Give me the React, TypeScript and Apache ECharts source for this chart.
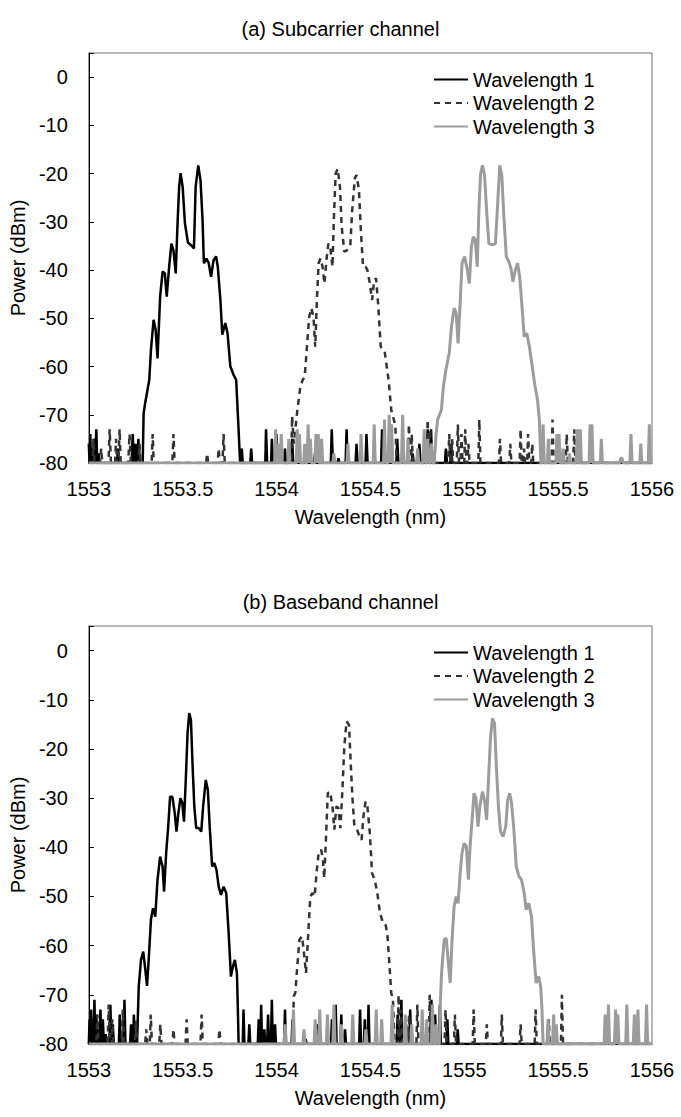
import { useEffect, useRef } from "react";
import * as echarts from "echarts";

const xMin = 1553;
const xMax = 1556;
const xStep = 0.5;
const yMin = -80;
const yMax = 5;
const yStep = 10;
const seriesNames = ["Wavelength 1", "Wavelength 2", "Wavelength 3"];
const panelTitles = ["(a) Subcarrier channel", "(b) Baseband channel"];
const xName = "Wavelength (nm)";
const yName = "Power (dBm)";

// (a) Subcarrier channel
const a_w1: [number, number][] = [
  [1553.000,-76],[1553.004,-80],[1553.008,-74],[1553.012,-80],[1553.018,-77],[1553.022,-80],[1553.028,-75],[1553.033,-80],[1553.040,-73],[1553.045,-80],[1553.052,-78],[1553.058,-80],
  [1553.150,-80],[1553.155,-77],[1553.160,-80],
  [1553.228,-80],[1553.234,-74],[1553.240,-80],[1553.245,-80],[1553.250,-76],[1553.256,-80],[1553.260,-80],[1553.264,-75],[1553.272,-80],
  [1553.287,-80],[1553.292,-69.7],[1553.300,-67.6],[1553.322,-62.8],[1553.331,-56.6],[1553.345,-50.3],[1553.356,-52.4],[1553.366,-58.3],[1553.380,-45.5],[1553.393,-40.3],[1553.405,-40.7],[1553.415,-45.5],[1553.428,-39.3],[1553.440,-34.5],[1553.451,-35.9],[1553.463,-40.7],[1553.472,-31.0],[1553.481,-22.8],[1553.489,-19.9],[1553.500,-22.8],[1553.512,-30.3],[1553.528,-34.3],[1553.546,-34.9],[1553.560,-35.5],[1553.569,-22.8],[1553.583,-18.3],[1553.595,-21.4],[1553.606,-29.7],[1553.613,-38.6],[1553.627,-37.6],[1553.639,-38.6],[1553.651,-41.4],[1553.665,-37.9],[1553.678,-37.2],[1553.687,-39.3],[1553.701,-46.2],[1553.711,-53.4],[1553.727,-51.0],[1553.739,-53.1],[1553.754,-60.0],[1553.771,-61.7],[1553.785,-62.8],[1553.797,-72.4],[1553.806,-80],
  [1553.812,-80],[1553.815,-77],[1553.820,-80],[1553.860,-80],[1553.865,-77],[1553.870,-80],[1553.940,-80],[1553.944,-73],[1553.950,-80],[1553.971,-80],[1553.975,-75],[1553.981,-80],[1553.996,-80],[1554.000,-74],[1554.006,-80],[1554.040,-80],[1554.045,-77],[1554.050,-80],[1554.078,-80],[1554.083,-75],[1554.089,-80],[1554.200,-80],[1554.205,-78],[1554.210,-80],[1554.289,-80],[1554.294,-73],[1554.300,-80],[1554.325,-80],[1554.330,-79],[1554.335,-80],[1554.368,-80],[1554.373,-73],[1554.379,-80],[1554.421,-80],[1554.426,-76],[1554.432,-80],[1554.474,-80],[1554.479,-74],[1554.485,-80],[1554.557,-80],[1554.562,-73],[1554.568,-80],[1554.638,-80],[1554.643,-75],[1554.649,-80],[1554.720,-80],[1554.725,-78],[1554.731,-80],[1554.756,-80],[1554.761,-76],[1554.767,-80],[1554.800,-80],[1554.805,-73],[1554.811,-80],[1554.818,-80],[1554.823,-73],[1554.829,-80],[1554.897,-80],[1554.902,-77],[1554.908,-80],[1554.925,-80],[1554.930,-76],[1554.936,-80],[1556.000,-80],
];
const a_w2: [number, number][] = [
  [1553.000,-80],[1553.020,-80],[1553.025,-75],[1553.030,-80],[1553.060,-80],[1553.066,-77],[1553.072,-80],[1553.105,-80],[1553.111,-73],[1553.118,-80],[1553.140,-80],[1553.145,-75],[1553.150,-80],[1553.158,-80],[1553.164,-73],[1553.170,-80],[1553.210,-80],[1553.217,-74],[1553.224,-80],[1553.265,-80],[1553.270,-76],[1553.276,-80],[1553.335,-80],[1553.340,-74],[1553.346,-80],[1553.445,-80],[1553.451,-74],[1553.457,-80],[1553.625,-80],[1553.630,-78],[1553.636,-80],[1553.686,-80],[1553.692,-77],[1553.698,-80],[1553.712,-80],[1553.718,-74],[1553.724,-80],
  [1554.078,-80],[1554.083,-70.3],[1554.092,-76],[1554.109,-69.7],[1554.127,-64.1],[1554.139,-62.8],[1554.150,-62.1],[1554.162,-55.9],[1554.174,-49.7],[1554.185,-47.9],[1554.197,-49.7],[1554.206,-55.9],[1554.215,-46.2],[1554.224,-38.6],[1554.234,-37.6],[1554.245,-39.3],[1554.255,-42.8],[1554.266,-37.9],[1554.276,-34.5],[1554.287,-35.5],[1554.298,-39.3],[1554.305,-29.7],[1554.315,-20.0],[1554.326,-19.0],[1554.338,-22.8],[1554.347,-31.0],[1554.361,-36.2],[1554.375,-35.9],[1554.393,-34.8],[1554.403,-27.6],[1554.417,-21.0],[1554.426,-20.3],[1554.439,-23.4],[1554.449,-31.7],[1554.461,-39.3],[1554.474,-39.3],[1554.484,-40.0],[1554.497,-42.8],[1554.509,-46.2],[1554.520,-42.1],[1554.530,-41.7],[1554.541,-46.9],[1554.555,-55.9],[1554.565,-56.6],[1554.576,-56.9],[1554.587,-60.0],[1554.597,-62.8],[1554.611,-69.0],[1554.625,-71.0],[1554.633,-72.4],[1554.640,-80],
  [1554.700,-80],[1554.705,-72],[1554.712,-80],[1554.716,-80],[1554.720,-74],[1554.726,-80],[1554.800,-80],[1554.805,-71],[1554.812,-80],[1554.818,-73],[1554.824,-80],[1554.915,-80],[1554.920,-74],[1554.926,-80],[1554.931,-80],[1554.935,-75],[1554.941,-80],[1554.960,-80],[1554.966,-72],[1554.972,-80],[1554.980,-80],[1554.985,-74],[1554.991,-80],[1555.000,-80],[1555.005,-73],[1555.011,-80],[1555.017,-80],[1555.022,-76],[1555.028,-80],[1555.075,-80],[1555.080,-71],[1555.086,-80],[1555.185,-80],[1555.190,-75],[1555.196,-80],[1555.240,-80],[1555.245,-76],[1555.251,-80],[1555.295,-80],[1555.300,-73],[1555.306,-80],[1555.313,-80],[1555.318,-77],[1555.324,-80],[1555.335,-80],[1555.340,-74],[1555.346,-80],[1555.357,-80],[1555.362,-76],[1555.368,-80],[1555.465,-80],[1555.470,-71],[1555.476,-80],[1555.540,-80],[1555.546,-74],[1555.552,-80],[1555.580,-80],[1555.586,-73],[1555.592,-80],[1555.605,-80],[1555.610,-76],[1555.616,-80],[1556.000,-80],
];
const a_w3: [number, number][] = [
  [1553.000,-80],[1553.990,-80],[1553.995,-73],[1554.001,-80],[1554.006,-80],[1554.010,-76],[1554.016,-80],[1554.021,-80],[1554.025,-74],[1554.031,-80],[1554.060,-80],[1554.065,-75],[1554.071,-80],[1554.105,-80],[1554.110,-73],[1554.116,-80],[1554.118,-80],[1554.122,-74],[1554.128,-80],[1554.145,-80],[1554.150,-76],[1554.156,-80],[1554.163,-80],[1554.168,-72],[1554.174,-80],[1554.176,-80],[1554.180,-75],[1554.186,-80],[1554.205,-80],[1554.210,-74],[1554.216,-80],[1554.222,-74],[1554.228,-80],[1554.235,-80],[1554.240,-75],[1554.246,-80],[1554.300,-80],[1554.305,-78],[1554.311,-80],[1554.375,-80],[1554.380,-76],[1554.386,-80],[1554.445,-80],[1554.450,-74],[1554.456,-80],[1554.515,-80],[1554.520,-72],[1554.526,-80],[1554.570,-80],[1554.575,-71],[1554.581,-80],[1554.595,-80],[1554.600,-70],[1554.607,-80],[1554.613,-72],[1554.619,-80],[1554.665,-80],[1554.672,-70],[1554.678,-80],[1554.695,-80],[1554.700,-75],[1554.706,-80],[1554.745,-80],[1554.752,-77],[1554.758,-80],[1554.780,-80],[1554.787,-73],[1554.793,-80],[1554.800,-80],[1554.805,-75],[1554.811,-80],[1554.820,-80],[1554.825,-76],[1554.832,-80],
  [1554.840,-80],[1554.850,-74],[1554.858,-71.0],[1554.878,-69.0],[1554.889,-64.1],[1554.902,-60.7],[1554.920,-57.2],[1554.932,-51.7],[1554.946,-47.9],[1554.957,-49.0],[1554.967,-55.2],[1554.978,-46.9],[1554.988,-38.6],[1555.002,-37.2],[1555.016,-40.0],[1555.027,-42.8],[1555.038,-35.2],[1555.048,-33.1],[1555.059,-33.8],[1555.069,-39.3],[1555.078,-27.6],[1555.087,-20.0],[1555.097,-18.3],[1555.108,-20.3],[1555.119,-27.6],[1555.131,-34.5],[1555.149,-34.8],[1555.166,-34.5],[1555.178,-26.2],[1555.189,-18.3],[1555.200,-20.3],[1555.210,-28.3],[1555.224,-37.2],[1555.238,-38.3],[1555.249,-39.7],[1555.259,-42.4],[1555.272,-40.0],[1555.284,-38.6],[1555.295,-41.4],[1555.305,-46.2],[1555.319,-53.8],[1555.333,-53.1],[1555.347,-55.9],[1555.362,-60.0],[1555.377,-64.1],[1555.390,-66.9],[1555.400,-71.0],[1555.408,-80],
  [1555.415,-80],[1555.420,-72],[1555.426,-80],[1555.442,-80],[1555.448,-75],[1555.454,-80],[1555.488,-80],[1555.493,-74],[1555.500,-80],[1555.505,-74],[1555.511,-80],[1555.522,-80],[1555.527,-77],[1555.533,-80],[1555.555,-80],[1555.560,-78],[1555.566,-80],[1555.596,-80],[1555.602,-73],[1555.608,-80],[1555.614,-80],[1555.618,-73],[1555.624,-80],[1555.665,-80],[1555.670,-72],[1555.676,-80],[1555.680,-72],[1555.686,-80],[1555.725,-80],[1555.730,-75],[1555.736,-80],[1555.828,-80],[1555.833,-79],[1555.840,-79],[1555.846,-80],[1555.882,-80],[1555.888,-74],[1555.894,-80],[1555.935,-80],[1555.940,-76],[1555.946,-80],[1555.980,-80],[1555.986,-72],[1555.992,-80],[1556.000,-80],
];

// (b) Baseband channel
const b_w1: [number, number][] = [
  [1553.000,-80],[1553.004,-75],[1553.008,-80],[1553.012,-73],[1553.016,-80],[1553.020,-76],[1553.024,-80],[1553.030,-71],[1553.035,-80],[1553.040,-74],[1553.045,-80],[1553.050,-77],[1553.055,-80],[1553.062,-73],[1553.067,-80],[1553.075,-75],[1553.080,-80],[1553.090,-78],[1553.095,-80],[1553.110,-80],[1553.115,-72],[1553.120,-80],[1553.128,-76],[1553.133,-80],[1553.160,-80],[1553.165,-74],[1553.170,-80],[1553.185,-80],[1553.190,-71],[1553.195,-80],[1553.220,-80],[1553.225,-76],[1553.230,-80],[1553.236,-80],[1553.240,-74],[1553.246,-80],
  [1553.257,-80],[1553.266,-68.3],[1553.278,-62.9],[1553.290,-61.2],[1553.301,-64.9],[1553.310,-68.2],[1553.319,-62.9],[1553.331,-54.7],[1553.342,-52.4],[1553.354,-54.1],[1553.366,-46.6],[1553.380,-41.9],[1553.393,-43.9],[1553.401,-49.0],[1553.412,-41.2],[1553.423,-35.8],[1553.433,-29.7],[1553.445,-29.7],[1553.458,-33.1],[1553.467,-36.8],[1553.477,-33.1],[1553.488,-30.0],[1553.498,-31.0],[1553.507,-34.8],[1553.518,-24.9],[1553.526,-16.8],[1553.535,-12.7],[1553.544,-14.1],[1553.553,-23.6],[1553.562,-31.7],[1553.572,-36.1],[1553.586,-36.1],[1553.599,-36.8],[1553.609,-31.7],[1553.623,-26.3],[1553.634,-28.3],[1553.644,-35.8],[1553.657,-43.9],[1553.669,-43.2],[1553.680,-44.6],[1553.692,-48.0],[1553.704,-49.7],[1553.718,-48.0],[1553.732,-49.3],[1553.745,-57.5],[1553.757,-66.3],[1553.768,-64.2],[1553.778,-62.9],[1553.789,-65.6],[1553.794,-73],[1553.798,-80],
  [1553.820,-80],[1553.824,-73],[1553.829,-80],[1553.850,-80],[1553.855,-76],[1553.860,-80],[1553.900,-80],[1553.905,-75],[1553.910,-80],[1553.914,-80],[1553.918,-72],[1553.923,-80],[1553.930,-80],[1553.935,-77],[1553.940,-80],[1553.950,-80],[1553.955,-74],[1553.960,-80],[1553.970,-80],[1553.975,-71],[1553.980,-80],[1553.987,-80],[1553.992,-76],[1553.997,-80],[1554.040,-80],[1554.045,-73],[1554.050,-80],[1554.080,-80],[1554.085,-75],[1554.090,-80],[1554.150,-80],[1554.155,-79],[1554.160,-80],[1554.210,-80],[1554.215,-76],[1554.220,-80],[1554.290,-80],[1554.295,-75],[1554.300,-80],[1554.310,-80],[1554.315,-72],[1554.320,-80],[1554.340,-80],[1554.345,-74],[1554.350,-80],[1554.360,-80],[1554.365,-77],[1554.370,-80],[1554.440,-80],[1554.445,-73],[1554.450,-80],[1554.465,-80],[1554.470,-75],[1554.475,-80],[1554.485,-80],[1554.490,-72],[1554.495,-80],[1554.640,-80],[1554.645,-74],[1554.650,-80],[1554.660,-80],[1554.665,-71],[1554.670,-80],[1554.685,-80],[1554.690,-76],[1554.695,-80],[1554.707,-80],[1554.712,-73],[1554.717,-80],[1554.820,-80],[1554.825,-71],[1554.830,-80],[1554.840,-80],[1554.845,-74],[1554.850,-80],[1554.865,-80],[1554.870,-72],[1554.875,-80],[1554.905,-80],[1554.910,-75],[1554.915,-80],[1554.960,-80],[1554.965,-77],[1554.970,-80],[1556.000,-80],
];
const b_w2: [number, number][] = [
  [1553.000,-80],[1553.040,-80],[1553.046,-74],[1553.052,-80],[1553.100,-80],[1553.106,-72],[1553.112,-80],[1553.120,-80],[1553.125,-75],[1553.131,-80],[1553.175,-80],[1553.181,-73],[1553.187,-80],[1553.245,-80],[1553.251,-75],[1553.257,-80],[1553.300,-80],[1553.306,-77],[1553.312,-80],[1553.325,-80],[1553.330,-74],[1553.336,-80],[1553.375,-80],[1553.381,-76],[1553.387,-80],[1553.445,-80],[1553.451,-77],[1553.457,-80],[1553.515,-80],[1553.521,-75],[1553.527,-80],[1553.595,-80],[1553.601,-74],[1553.607,-80],[1553.690,-80],[1553.696,-77],[1553.702,-80],
  [1554.085,-80],[1554.092,-70.3],[1554.100,-69.6],[1554.109,-64.9],[1554.122,-58.8],[1554.136,-58.1],[1554.146,-61.5],[1554.157,-65.6],[1554.167,-58.8],[1554.180,-50.0],[1554.192,-49.3],[1554.203,-50.0],[1554.213,-45.3],[1554.224,-41.2],[1554.238,-40.5],[1554.247,-42.5],[1554.254,-46.3],[1554.263,-38.5],[1554.273,-29.0],[1554.285,-28.7],[1554.298,-31.7],[1554.308,-36.4],[1554.319,-31.7],[1554.329,-32.0],[1554.340,-36.1],[1554.351,-28.3],[1554.361,-19.5],[1554.373,-14.4],[1554.386,-15.1],[1554.396,-23.6],[1554.405,-30.4],[1554.414,-35.4],[1554.426,-36.1],[1554.439,-37.5],[1554.453,-38.5],[1554.463,-33.7],[1554.474,-30.7],[1554.484,-31.7],[1554.497,-37.1],[1554.509,-45.3],[1554.523,-46.6],[1554.537,-49.3],[1554.551,-53.4],[1554.565,-55.1],[1554.579,-55.4],[1554.590,-57.5],[1554.602,-64.2],[1554.611,-69.6],[1554.620,-71.0],[1554.629,-80],
  [1554.645,-80],[1554.650,-70],[1554.656,-80],[1554.661,-80],[1554.665,-73],[1554.671,-80],[1554.700,-80],[1554.706,-74],[1554.712,-80],[1554.745,-80],[1554.750,-72],[1554.756,-80],[1554.810,-80],[1554.816,-70],[1554.822,-80],[1554.830,-80],[1554.835,-75],[1554.841,-80],[1554.895,-80],[1554.900,-73],[1554.906,-80],[1554.945,-80],[1554.950,-74],[1554.956,-80],[1555.045,-80],[1555.050,-73],[1555.056,-80],[1555.115,-80],[1555.120,-76],[1555.126,-80],[1555.195,-80],[1555.200,-74],[1555.206,-80],[1555.295,-80],[1555.300,-76],[1555.306,-80],[1555.375,-80],[1555.380,-73],[1555.386,-80],[1555.445,-80],[1555.450,-75],[1555.456,-80],[1555.515,-80],[1555.520,-70],[1555.526,-80],[1556.000,-80],
];
const b_w3: [number, number][] = [
  [1553.000,-80],[1554.040,-80],[1554.046,-76],[1554.052,-80],[1554.085,-80],[1554.090,-73],[1554.096,-80],[1554.140,-80],[1554.146,-77],[1554.152,-80],[1554.200,-80],[1554.206,-75],[1554.212,-80],[1554.225,-80],[1554.230,-73],[1554.236,-80],[1554.265,-80],[1554.271,-74],[1554.277,-80],[1554.300,-80],[1554.306,-72],[1554.312,-80],[1554.340,-80],[1554.346,-76],[1554.352,-80],[1554.400,-80],[1554.406,-74],[1554.412,-80],[1554.470,-80],[1554.476,-77],[1554.482,-80],[1554.525,-80],[1554.531,-73],[1554.537,-80],[1554.555,-80],[1554.560,-75],[1554.566,-80],[1554.610,-80],[1554.616,-72],[1554.622,-80],[1554.680,-80],[1554.686,-74],[1554.692,-80],[1554.715,-80],[1554.720,-76],[1554.726,-80],[1554.770,-80],[1554.776,-73],[1554.782,-80],[1554.795,-80],[1554.800,-75],[1554.806,-80],[1554.825,-80],[1554.830,-72],[1554.836,-80],[1554.845,-80],[1554.850,-76],[1554.856,-80],
  [1554.867,-80],[1554.872,-72],[1554.879,-65.6],[1554.893,-58.8],[1554.904,-58.5],[1554.914,-62.9],[1554.925,-67.6],[1554.935,-58.8],[1554.946,-52.0],[1554.957,-50.0],[1554.967,-51.4],[1554.978,-45.3],[1554.988,-41.2],[1554.999,-39.2],[1555.011,-39.8],[1555.022,-46.6],[1555.031,-39.8],[1555.043,-33.7],[1555.052,-29.0],[1555.062,-30.0],[1555.073,-35.8],[1555.083,-31.7],[1555.097,-28.7],[1555.108,-30.4],[1555.119,-34.4],[1555.129,-26.3],[1555.140,-17.5],[1555.150,-13.8],[1555.161,-14.8],[1555.171,-23.6],[1555.182,-31.7],[1555.193,-36.8],[1555.207,-37.8],[1555.221,-35.8],[1555.231,-30.4],[1555.242,-29.0],[1555.252,-31.0],[1555.263,-35.8],[1555.277,-43.9],[1555.291,-45.9],[1555.305,-46.6],[1555.319,-49.3],[1555.330,-52.7],[1555.344,-51.4],[1555.358,-54.1],[1555.369,-60.8],[1555.383,-67.6],[1555.397,-66.3],[1555.407,-68.3],[1555.414,-73],[1555.420,-80],
  [1555.440,-80],[1555.446,-75],[1555.452,-80],[1555.470,-80],[1555.476,-74],[1555.482,-80],[1555.486,-80],[1555.490,-76],[1555.496,-80],[1555.745,-80],[1555.750,-74],[1555.756,-80],[1555.763,-80],[1555.768,-72],[1555.774,-80],[1555.800,-80],[1555.806,-73],[1555.812,-80],[1555.818,-74],[1555.824,-80],[1555.860,-80],[1555.866,-72],[1555.872,-80],[1555.900,-80],[1555.906,-74],[1555.912,-80],[1555.920,-80],[1555.925,-73],[1555.931,-80],[1555.965,-80],[1555.971,-72],[1555.977,-80],[1556.000,-80],
];

const FONT = "'Liberation Sans', Arial, sans-serif";
const FS = 20;

const lineStyles = [
  { color: "#000000", width: 2.5, type: "solid" as const },
  { color: "#333333", width: 2.5, type: [6, 5] as number[] },
  { color: "#9c9c9c", width: 3, type: "solid" as const },
];

export default function App() {
  const ref = useRef<HTMLDivElement>(null);
  useEffect(() => {
    document.body.style.margin = "0";
    const chart = echarts.init(ref.current!, null, { renderer: "svg" });
    const grids = [
      { left: 84, top: 53, width: 568, height: 410 },
      { left: 84, top: 626, width: 568, height: 418 },
    ];
    const panels = [
      [a_w1, a_w2, a_w3],
      [b_w1, b_w2, b_w3],
    ];
    const series: any[] = [];
    panels.forEach((p, gi) => {
      p.forEach((d, si) => {
        series.push({
          type: "line",
          name: seriesNames[si],
          xAxisIndex: gi,
          yAxisIndex: gi,
          data: d,
          symbol: "none",
          showSymbol: false,
          clip: true,
          lineStyle: lineStyles[si],
          itemStyle: { color: lineStyles[si].color },
        });
      });
    });
    chart.setOption({
      animation: false,
      backgroundColor: "#ffffff",
      textStyle: { fontFamily: FONT, color: "#000" },
      title: panelTitles.map((t, i) => ({
        text: t,
        left: "center",
        top: grids[i].top - 39,
        textStyle: { fontFamily: FONT, fontSize: FS, fontWeight: "normal", color: "#000" },
      })),
      legend: grids.map((g) => ({
        data: seriesNames,
        orient: "vertical",
        left: 433,
        top: g.top + 16,
        itemWidth: 34,
        itemHeight: 10,
        itemGap: 2.5,
        padding: 0,
        itemStyle: { opacity: 0 },
        textStyle: { fontFamily: FONT, fontSize: FS, color: "#000", lineHeight: 21 },
      })),
      grid: grids.map((g) => ({ ...g, show: true, borderColor: "#707070", borderWidth: 1, backgroundColor: "transparent" })),
      xAxis: grids.map((_, i) => ({
        type: "value",
        gridIndex: i,
        min: xMin,
        max: xMax,
        interval: xStep,
        name: xName,
        nameLocation: "middle",
        nameGap: 44,
        nameTextStyle: { fontFamily: FONT, fontSize: FS, color: "#000" },
        axisLine: { show: true, onZero: false, lineStyle: { color: "#000", width: 1 } },
        axisTick: { show: false },
        splitLine: { show: false },
        axisLabel: { color: "#000", fontFamily: FONT, fontSize: FS, margin: 16, formatter: (v: number) => String(v) },
      })),
      yAxis: grids.map((_, i) => ({
        type: "value",
        gridIndex: i,
        min: yMin,
        max: yMax,
        interval: yStep,
        name: yName,
        nameLocation: "middle",
        nameGap: 52,
        nameTextStyle: { fontFamily: FONT, fontSize: FS, color: "#000" },
        axisLine: { show: true, onZero: false, lineStyle: { color: "#000", width: 1 } },
        axisTick: { show: true, inside: true, length: 5, lineStyle: { color: "#000" } },
        splitLine: { show: false },
        axisLabel: {
          color: "#000",
          fontFamily: FONT,
          fontSize: FS,
          margin: 21,
          formatter: (v: number) => (v > 0 ? "" : String(v)),
        },
      })),
      series,
    });
    return () => chart.dispose();
  }, []);
  return <div ref={ref} style={{ width: 681, height: 1117 }} />;
}
